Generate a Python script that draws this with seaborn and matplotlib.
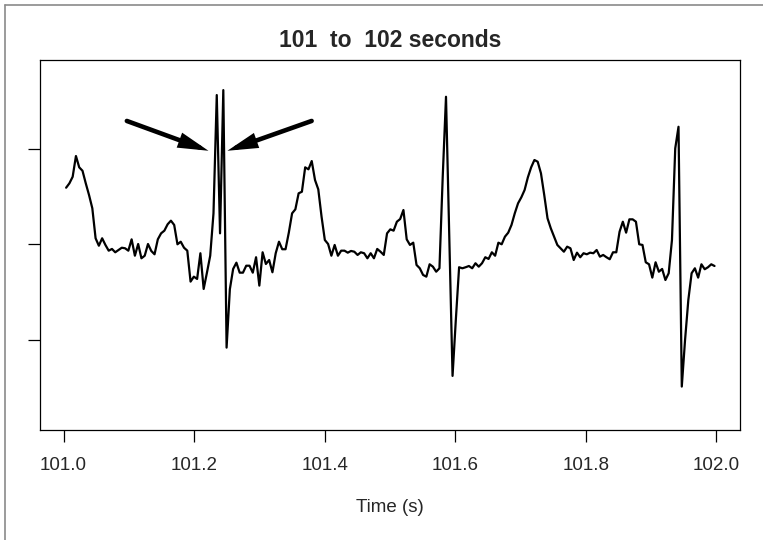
import numpy as np
import pandas as pd
import matplotlib
matplotlib.use("Agg")
import matplotlib.pyplot as plt
import seaborn as sns
from matplotlib.lines import Line2D

# ---- data ----
amplitude = [
    0.594, 0.640, 0.709, 0.927, 0.808, 0.772, 0.640, 0.517, 0.378, 0.063,
    -0.015, 0.063, -0.007, -0.067, -0.049, -0.084, -0.060, -0.036, -0.042, -0.067,
    0.052, -0.120, 0.003, -0.147, -0.120, 0.003, -0.070, -0.105, 0.052, 0.115,
    0.143, 0.210, 0.248, 0.203, 0.000, 0.027, -0.036, -0.067, -0.392, -0.340,
    -0.364, -0.094, -0.469, -0.298, -0.120, 0.325, 1.567, 0.115, 1.619, -1.085,
    -0.472, -0.259, -0.193, -0.298, -0.298, -0.225, -0.225, -0.298, -0.136, -0.434,
    -0.084, -0.207, -0.165, -0.294, -0.094, 0.027, -0.052, -0.052, 0.122, 0.325,
    0.367, 0.535, 0.552, 0.808, 0.787, 0.874, 0.675, 0.577, 0.290, 0.045,
    0.003, -0.120, -0.007, -0.120, -0.067, -0.067, -0.088, -0.070, -0.078, -0.112,
    -0.084, -0.094, -0.147, -0.094, -0.147, -0.049, -0.078, -0.112, 0.115, 0.157,
    0.143, 0.237, 0.265, 0.360, 0.052, -0.007, 0.017, -0.217, -0.252, -0.322,
    -0.340, -0.210, -0.235, -0.288, -0.252, 0.709, 1.549, 0.080, -1.382, -0.794,
    -0.241, -0.252, -0.241, -0.228, -0.252, -0.199, -0.235, -0.199, -0.136, -0.154,
    -0.084, -0.120, 0.017, 0.000, 0.080, 0.122, 0.203, 0.325, 0.430, 0.493,
    0.570, 0.703, 0.808, 0.885, 0.867, 0.745, 0.517, 0.273, 0.168, 0.080,
    -0.007, -0.042, -0.078, -0.025, -0.042, -0.165, -0.088, -0.136, -0.094, -0.105,
    -0.088, -0.094, -0.060, -0.130, -0.112, -0.136, -0.157, -0.084, -0.084, 0.132,
    0.237, 0.122, 0.262, 0.262, 0.237, 0.000, -0.007, -0.189, -0.210, -0.350,
    -0.189, -0.288, -0.259, -0.375, -0.304, 0.045, 1.007, 1.234, -1.494, -1.004,
    -0.584, -0.304, -0.252, -0.350, -0.210, -0.262, -0.241, -0.210, -0.228,
]
first_sample_s = 101.004
last_sample_s = 101.997

x_ticks = [101.0, 101.2, 101.4, 101.6, 101.8, 102.0]
x_tick_labels = ["101.0", "101.2", "101.4", "101.6", "101.8", "102.0"]
y_ticks = [-1.0, 0.0, 1.0]

title_text = "101  to  102 seconds"
x_label = "Time (s)"

arrow_tail_t = [101.097, 101.380]
arrow_tail_v = [1.295, 1.295]
arrow_head_t = [101.222, 101.251]
arrow_head_v = [0.982, 0.982]

# ---- build ----
time_s = np.linspace(first_sample_s, last_sample_s, len(amplitude))
df = pd.DataFrame({"time_s": time_s, "amplitude": amplitude})

sns.set_style("white")
plt.rcParams["font.family"] = ["Liberation Sans", "DejaVu Sans"]

fig = plt.figure(figsize=(7.63, 5.40), dpi=100)
ax = fig.add_axes([40 / 763, 110 / 540, 700 / 763, 370 / 540])

sns.lineplot(data=df, x="time_s", y="amplitude", color="black",
             linewidth=1.6, ax=ax, sort=False)

for tt, tv, ht, hv in zip(arrow_tail_t, arrow_tail_v, arrow_head_t, arrow_head_v):
    ax.annotate("", xy=(ht, hv), xytext=(tt, tv),
                arrowprops=dict(arrowstyle="-|>,head_length=1.4,head_width=0.36",
                                lw=3.3, color="black", shrinkA=0, shrinkB=0,
                                joinstyle="miter"))

ax.set_xlim(100.964, 102.036)
ax.set_ylim(-1.95, 1.935)
ax.set_xticks(x_ticks)
ax.set_xticklabels(x_tick_labels)
ax.set_yticks(y_ticks)
ax.set_yticklabels([])
ax.tick_params(axis="both", direction="out", length=8.6, width=0.9,
               color="black", labelsize=13.5, pad=10.5, bottom=True, left=True)
for s in ax.spines.values():
    s.set_visible(True)
    s.set_color("black")
    s.set_linewidth(0.9)

ax.set_title(title_text, fontsize=16.5, fontweight="bold", pad=9.5)
ax.set_xlabel(x_label, fontsize=13.5, labelpad=18.5)
ax.set_ylabel("")

# outer frame (left and top edges visible in reference)
fig.add_artist(Line2D([4.5 / 763, 4.5 / 763], [0, 1 - 4.5 / 540],
                      transform=fig.transFigure, color="#8a8a8a", lw=1.2))
fig.add_artist(Line2D([4.5 / 763, 1], [1 - 4.5 / 540, 1 - 4.5 / 540],
                      transform=fig.transFigure, color="#8a8a8a", lw=1.2))

fig.savefig("out.png", dpi=100)
